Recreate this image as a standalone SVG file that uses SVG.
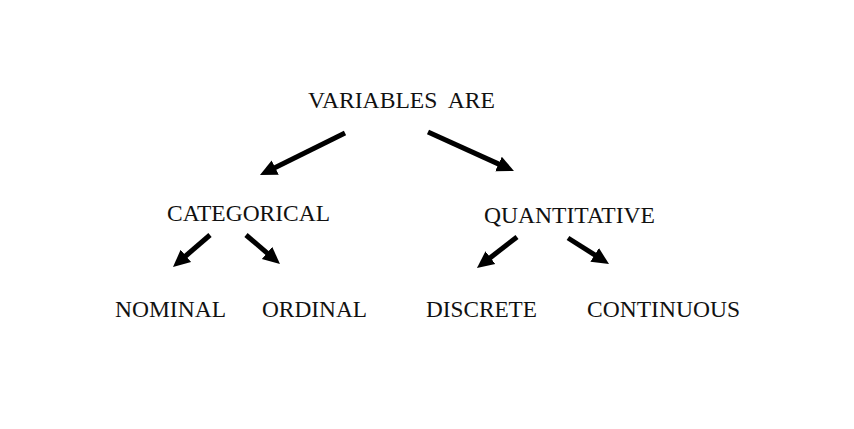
<svg xmlns="http://www.w3.org/2000/svg" width="854" height="429" viewBox="0 0 854 429">
<style>
text{font-family:"Liberation Serif","Times New Roman",serif;font-size:24px;fill:#111;white-space:pre}
.c line{stroke:#000;stroke-width:5;marker-end:url(#ah)}
</style>
<defs>
<marker id="ah" viewBox="0 -9 19 18" markerWidth="19" markerHeight="18" refX="1" refY="0" orient="auto" markerUnits="userSpaceOnUse">
<path d="M0,-8 L17,0 L0,8 Z" fill="#000"/>
</marker>
</defs>
<rect width="854" height="429" fill="#fff"/>
<g id="variables"><text x="308" y="108" textLength="187" lengthAdjust="spacingAndGlyphs" xml:space="preserve">VARIABLES  ARE</text></g>
<g id="categorical"><text x="167" y="221" textLength="163" lengthAdjust="spacingAndGlyphs">CATEGORICAL</text></g>
<g id="quantitative"><text x="484" y="223" textLength="171" lengthAdjust="spacingAndGlyphs">QUANTITATIVE</text></g>
<g id="nominal"><text x="115" y="317" textLength="111" lengthAdjust="spacingAndGlyphs">NOMINAL</text></g>
<g id="ordinal"><text x="262" y="317" textLength="105" lengthAdjust="spacingAndGlyphs">ORDINAL</text></g>
<g id="discrete"><text x="426" y="317" textLength="111" lengthAdjust="spacingAndGlyphs">DISCRETE</text></g>
<g id="continuous"><text x="587" y="317" textLength="153" lengthAdjust="spacingAndGlyphs">CONTINUOUS</text></g>
<g id="connectors" class="c">
<line x1="345" y1="133" x2="274.3" y2="168"/>
<line x1="428" y1="132" x2="499.4" y2="164.4"/>
<line x1="210" y1="235" x2="185.1" y2="256.5"/>
<line x1="246" y1="235" x2="267.8" y2="253.6"/>
<line x1="517" y1="237" x2="489.6" y2="258.2"/>
<line x1="568" y1="238" x2="595.5" y2="255.4"/>
</g>
</svg>
